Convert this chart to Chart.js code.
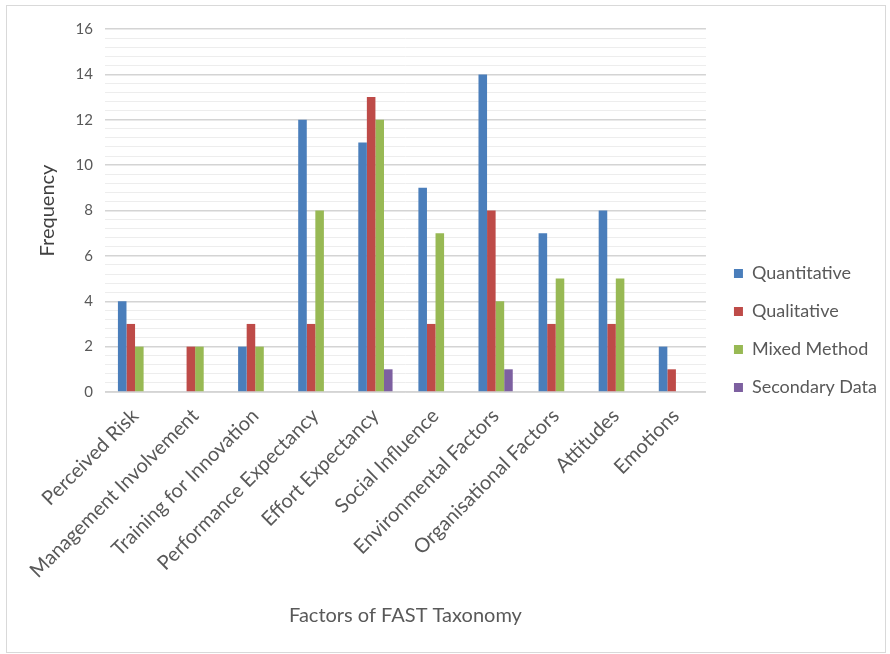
<!DOCTYPE html>
<html>
<head>
<meta charset="utf-8">
<script src="https://cdn.jsdelivr.net/npm/chart.js@4.4.1/dist/chart.umd.min.js"></script>
<style>
    html, body { margin: 0; padding: 0; background: #ffffff; }
    #frame {
        position: absolute;
        left: 6px;
        top: 5px;
        width: 878px;
        height: 646px;
        border: 1px solid #d9d9d9;
        background: #ffffff;
    }
</style>
</head>
<body>
<div id="frame"><canvas id="fast-chart" width="878" height="646"></canvas></div>
<script>
const factors = [
    'Perceived Risk', 'Management Involvement', 'Training for Innovation',
    'Performance Expectancy', 'Effort Expectancy', 'Social Influence',
    'Environmental Factors', 'Organisational Factors', 'Attitudes', 'Emotions'
];
const quantitative = [4, 0, 2, 12, 11, 9, 14, 7, 8, 2];
const qualitative = [3, 2, 3, 3, 13, 3, 8, 3, 3, 1];
const mixedMethod = [2, 2, 2, 8, 12, 7, 4, 5, 5, 0];
const secondaryData = [0, 0, 0, 0, 1, 0, 1, 0, 0, 0];
const yTicks = [0, 2, 4, 6, 8, 10, 12, 14, 16];

const textColor = '#595959';
const fontFamily = 'Lato, "Open Sans", sans-serif';

function isMajor(v) {
    return yTicks.some(t => Math.abs(t - v) < 1e-6);
}

// nudge the legend a bit to the right, leaving a wider gap after the plot
const legendShift = {
    id: 'legendShift',
    afterLayout(chart) {
        if (chart.legend) {
            chart.legend.left += 8;
            chart.legend.right += 8;
        }
    }
};

const canvas = document.getElementById('fast-chart');
new Chart(canvas.getContext('2d'), {
    type: 'bar',
    data: {
        labels: factors,
        datasets: [
            { label: 'Quantitative', data: quantitative, backgroundColor: '#4a7ebb' },
            { label: 'Qualitative', data: qualitative, backgroundColor: '#be4b48' },
            { label: 'Mixed Method', data: mixedMethod, backgroundColor: '#98b954' },
            { label: 'Secondary Data', data: secondaryData, backgroundColor: '#7d60a0' }
        ]
    },
    plugins: [legendShift],
    options: {
        responsive: false,
        animation: false,
        layout: { padding: { left: 25, top: 23, right: 6, bottom: 20 } },
        datasets: {
            bar: { categoryPercentage: 0.57, barPercentage: 1.0 }
        },
        plugins: {
            tooltip: { enabled: false },
            legend: {
                position: 'right',
                labels: {
                    color: textColor,
                    boxWidth: 9,
                    boxHeight: 9,
                    padding: 20,
                    font: { family: fontFamily, size: 18 }
                }
            }
        },
        scales: {
            x: {
                grid: { display: false },
                border: { color: '#d9d9d9' },
                ticks: {
                    color: textColor,
                    font: { family: fontFamily, size: 20 },
                    minRotation: 45,
                    maxRotation: 45,
                    autoSkip: false,
                    padding: 4
                },
                title: {
                    display: true,
                    text: 'Factors of FAST Taxonomy',
                    color: textColor,
                    font: { family: fontFamily, size: 20 },
                    padding: { top: 4, bottom: 4 }
                },
                afterFit: scale => { scale.height = 240; }
            },
            y: {
                min: 0,
                max: 16,
                border: { display: false },
                grid: {
                    color: ctx => isMajor(ctx.tick.value) ? '#d4d4d4' : '#ededed',
                    lineWidth: ctx => isMajor(ctx.tick.value) ? 1.5 : 1,
                    drawTicks: false
                },
                ticks: {
                    stepSize: 0.4,
                    autoSkip: false,
                    color: textColor,
                    font: { family: fontFamily, size: 15 },
                    padding: 12,
                    callback: v => isMajor(v) ? String(Math.round(v)) : ''
                },
                title: {
                    display: true,
                    text: 'Frequency',
                    color: '#404040',
                    font: { family: fontFamily, size: 20 },
                    padding: { top: 4, bottom: 4 }
                },
                afterFit: scale => { scale.width = 73; }
            }
        }
    }
});
</script>
</body>
</html>
